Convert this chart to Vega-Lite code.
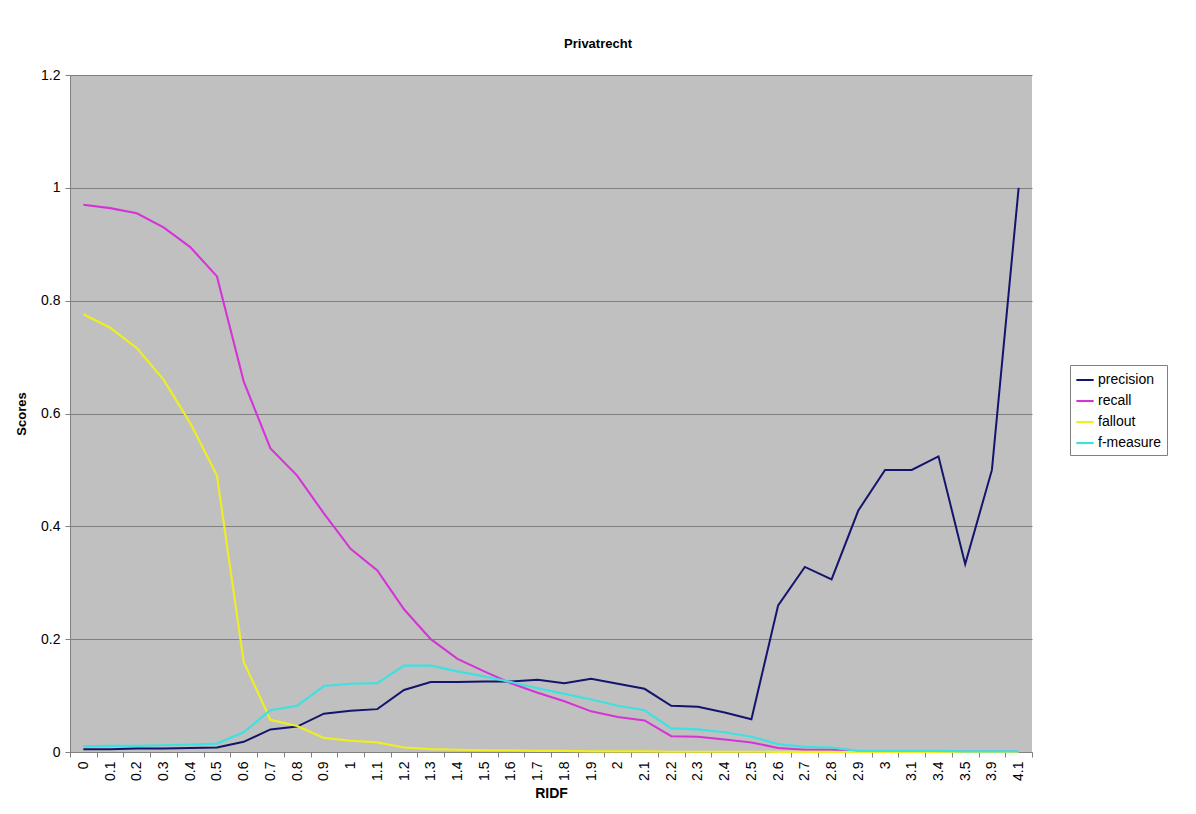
{
  "$schema": "https://vega.github.io/schema/vega-lite/v6.json",
  "width": 962,
  "height": 677,
  "autosize": {"type": "none"},
  "padding": {"left": 70, "top": 75, "right": 164, "bottom": 62},
  "background": "white",
  "title": {"text": "Privatrecht", "anchor": "middle", "frame": "group", "dx": 47, "offset": 17, "font": "Liberation Sans", "fontSize": 13, "fontWeight": "bold", "color": "black"},
  "data": {"values": [
    {"ridf": "0", "precision": 0.005, "recall": 0.97, "fallout": 0.776, "f-measure": 0.01},
    {"ridf": "0.1", "precision": 0.005, "recall": 0.964, "fallout": 0.752, "f-measure": 0.011},
    {"ridf": "0.2", "precision": 0.006, "recall": 0.955, "fallout": 0.716, "f-measure": 0.011},
    {"ridf": "0.3", "precision": 0.006, "recall": 0.93, "fallout": 0.66, "f-measure": 0.012},
    {"ridf": "0.4", "precision": 0.007, "recall": 0.895, "fallout": 0.583, "f-measure": 0.013},
    {"ridf": "0.5", "precision": 0.008, "recall": 0.843, "fallout": 0.49, "f-measure": 0.015},
    {"ridf": "0.6", "precision": 0.018, "recall": 0.657, "fallout": 0.16, "f-measure": 0.035},
    {"ridf": "0.7", "precision": 0.04, "recall": 0.538, "fallout": 0.057, "f-measure": 0.074},
    {"ridf": "0.8", "precision": 0.045, "recall": 0.49, "fallout": 0.046, "f-measure": 0.082},
    {"ridf": "0.9", "precision": 0.068, "recall": 0.423, "fallout": 0.025, "f-measure": 0.117},
    {"ridf": "1", "precision": 0.073, "recall": 0.36, "fallout": 0.02, "f-measure": 0.121},
    {"ridf": "1.1", "precision": 0.076, "recall": 0.322, "fallout": 0.017, "f-measure": 0.122},
    {"ridf": "1.2", "precision": 0.11, "recall": 0.253, "fallout": 0.008, "f-measure": 0.153},
    {"ridf": "1.3", "precision": 0.124, "recall": 0.2, "fallout": 0.005, "f-measure": 0.153},
    {"ridf": "1.4", "precision": 0.124, "recall": 0.165, "fallout": 0.004, "f-measure": 0.143},
    {"ridf": "1.5", "precision": 0.125, "recall": 0.143, "fallout": 0.003, "f-measure": 0.134},
    {"ridf": "1.6", "precision": 0.125, "recall": 0.122, "fallout": 0.003, "f-measure": 0.124},
    {"ridf": "1.7", "precision": 0.128, "recall": 0.105, "fallout": 0.002, "f-measure": 0.113},
    {"ridf": "1.8", "precision": 0.122, "recall": 0.09, "fallout": 0.002, "f-measure": 0.103},
    {"ridf": "1.9", "precision": 0.13, "recall": 0.072, "fallout": 0.001, "f-measure": 0.093},
    {"ridf": "2", "precision": 0.121, "recall": 0.062, "fallout": 0.001, "f-measure": 0.082},
    {"ridf": "2.1", "precision": 0.112, "recall": 0.056, "fallout": 0.001, "f-measure": 0.074},
    {"ridf": "2.2", "precision": 0.082, "recall": 0.028, "fallout": 0.0005, "f-measure": 0.042},
    {"ridf": "2.3", "precision": 0.08, "recall": 0.027, "fallout": 0.0005, "f-measure": 0.04},
    {"ridf": "2.4", "precision": 0.07, "recall": 0.022, "fallout": 0.0005, "f-measure": 0.035},
    {"ridf": "2.5", "precision": 0.058, "recall": 0.017, "fallout": 0.0005, "f-measure": 0.027},
    {"ridf": "2.6", "precision": 0.26, "recall": 0.007, "fallout": 0.0003, "f-measure": 0.014},
    {"ridf": "2.7", "precision": 0.328, "recall": 0.004, "fallout": 0.0002, "f-measure": 0.009},
    {"ridf": "2.8", "precision": 0.306, "recall": 0.004, "fallout": 0.0002, "f-measure": 0.008},
    {"ridf": "2.9", "precision": 0.428, "recall": 0.001, "fallout": 0.0001, "f-measure": 0.002},
    {"ridf": "3", "precision": 0.5, "recall": 0.001, "fallout": 0.0, "f-measure": 0.002},
    {"ridf": "3.1", "precision": 0.5, "recall": 0.001, "fallout": 0.0, "f-measure": 0.002},
    {"ridf": "3.4", "precision": 0.524, "recall": 0.001, "fallout": 0.0, "f-measure": 0.002},
    {"ridf": "3.5", "precision": 0.333, "recall": 0.0005, "fallout": 0.0, "f-measure": 0.001},
    {"ridf": "3.9", "precision": 0.5, "recall": 0.0005, "fallout": 0.0, "f-measure": 0.001},
    {"ridf": "4.1", "precision": 1.0, "recall": 0.0005, "fallout": 0.0, "f-measure": 0.001}
  ]},
  "transform": [{"fold": ["precision", "recall", "fallout", "f-measure"], "as": ["series", "score"]}],
  "mark": {"type": "line", "interpolate": "linear"},
  "encoding": {
    "x": {
      "field": "ridf", "type": "ordinal", "sort": null, "bandPosition": 0.5,
      "scale": {"type": "band", "paddingInner": 0, "paddingOuter": 0},
      "axis": {"title": "RIDF", "labelAngle": -90, "tickBand": "extent", "grid": false, "labelFontSize": 14, "labelFont": "Liberation Sans", "labelColor": "black", "labelPadding": 4, "tickSize": 5, "tickColor": "#808080", "domainColor": "#808080", "titleFont": "Liberation Sans", "titleFontSize": 14, "titleFontWeight": "bold", "titleColor": "black", "titlePadding": 6}
    },
    "y": {
      "field": "score", "type": "quantitative",
      "scale": {"domain": [0, 1.2], "nice": false, "zero": true},
      "axis": {"title": "Scores", "values": [0, 0.2, 0.4, 0.6, 0.8, 1, 1.2], "format": "~g", "grid": true, "gridColor": "#808080", "gridWidth": 1, "labelFontSize": 14, "labelFont": "Liberation Sans", "labelColor": "black", "labelPadding": 5, "tickSize": 5, "tickColor": "#808080", "domainColor": "#808080", "titleFont": "Liberation Sans", "titleFontSize": 13, "titleFontWeight": "bold", "titleColor": "black", "titlePadding": 12}
    },
    "color": {
      "field": "series", "type": "nominal",
      "scale": {"domain": ["precision", "recall", "fallout", "f-measure"], "range": ["#14146e", "#d633d6", "#eeee22", "#3fe0e0"]},
      "legend": {"title": null, "orient": "none", "legendX": 1000, "legendY": 290, "fillColor": "white", "strokeColor": "#808080", "padding": 5, "symbolType": "stroke", "symbolStrokeWidth": 2, "symbolSize": 300, "labelFontSize": 14, "labelFont": "Liberation Sans", "labelColor": "black", "rowPadding": 4, "labelOffset": 3}
    },
    "strokeWidth": {
      "field": "series", "type": "nominal",
      "scale": {"domain": ["precision", "recall", "fallout", "f-measure"], "range": [2, 2.2, 2.2, 3]},
      "legend": null
    }
  },
  "config": {"view": {"fill": "#c0c0c0", "stroke": null}}
}
